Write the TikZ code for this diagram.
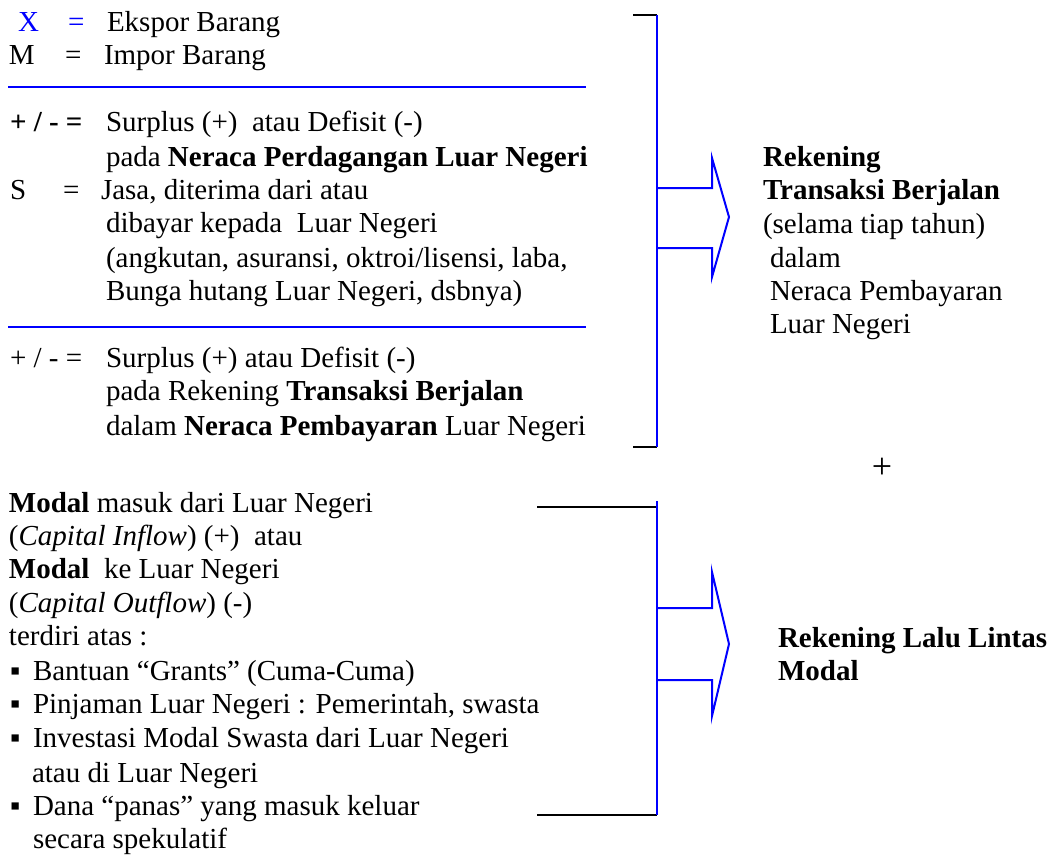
\documentclass[tikz,border=0pt]{standalone}
\usepackage{fontspec}
\setmainfont{Liberation Serif}
\begin{document}
\begin{tikzpicture}[x=1pt,y=-1pt,
  t/.style={anchor=base west, inner sep=0pt, outer sep=0pt, font=\fontsize{29}{34}\selectfont},
  bl/.style={draw=blue, line width=2pt},
  bk/.style={draw=black, line width=2pt},
  bul/.style={anchor=base west, inner sep=0pt, outer sep=0pt, font=\fontsize{29}{34}\selectfont}]
\useasboundingbox (0,0) rectangle (1052,855);
% top block
\node[t, text=blue] (xl) at (18,31) {X};
\node[t, text=blue] (xe) at (68,31) {=};
\node[t] (xd) at (107,31) {Ekspor Barang};
\node[t] (ml) at (9,64) {M};
\node[t] (me) at (65,64) {=};
\node[t] (md) at (104,64) {Impor Barang};
\coordinate (l1a) at (8,87); \coordinate (l1b) at (586,87);
\draw[bl] (l1a) -- (l1b);
\node[t, font=\fontsize{29}{34}\selectfont\bfseries] (pm1) at (10,131) {+ / - =};
\node[t] (s1) at (106,131) {Surplus (+)\ \ atau Defisit (-)};
\node[t] (s2) at (106,166) {pada \textbf{Neraca Perdagangan Luar Negeri}};
\node[t] (sl) at (10,199) {S};
\node[t] (se) at (63,199) {=};
\node[t] (sd) at (101,199) {Jasa, diterima dari atau};
\node[t] (s4) at (106,232) {dibayar kepada\ \ Luar Negeri};
\node[t] (s5) at (106,267) {(angkutan, asuransi, oktroi/lisensi, laba,};
\node[t] (s6) at (106,300) {Bunga hutang Luar Negeri, dsbnya)};
\coordinate (l2a) at (8,327); \coordinate (l2b) at (586,327);
\draw[bl] (l2a) -- (l2b);
\node[t] (pm2) at (10,367) {+ / - =};
\node[t] (r1) at (106,367) {Surplus (+) atau Defisit (-)};
\node[t] (r2) at (106,400) {pada Rekening \textbf{Transaksi Berjalan}};
\node[t] (r3) at (106,435) {dalam \textbf{Neraca Pembayaran} Luar Negeri};
% top bracket
\coordinate (b1t) at (657,15); \coordinate (b1b) at (657,447);
\coordinate (b1tl) at (633,15); \coordinate (b1bl) at (633,447);
\draw[bk] (b1tl) -- (b1t);
\draw[bk] (b1bl) -- (b1b);
\draw[bl] (b1t) -- (b1b);
\draw[bl, line join=miter] (657,188) -- (712,188) -- (712,158) -- (729,217) -- (712,277) -- (712,248) -- (657,248);
% right text top
\node[t, font=\fontsize{29}{34}\selectfont\bfseries] (rk1) at (763,166) {Rekening};
\node[t, font=\fontsize{29}{34}\selectfont\bfseries] (rk2) at (763,199) {Transaksi Berjalan};
\node[t] (rk3) at (763,233) {(selama tiap tahun)};
\node[t] (rk4) at (770,267) {dalam};
\node[t] (rk5) at (770,300) {Neraca Pembayaran};
\node[t] (rk6) at (770,333) {Luar Negeri};
% plus
\node[t, anchor=base, font=\fontsize{36}{40}\selectfont] (plus) at (882,478) {+};
% bottom left text
\node[t] (m1) at (9,512) {\textbf{Modal} masuk dari Luar Negeri};
\node[t] (m2) at (9,545) {(\textit{Capital Inflow}) (+)\ \ atau};
\node[t] (m3) at (9,578) {\textbf{Modal}\ \ ke Luar Negeri};
\node[t] (m4) at (9,612) {(\textit{Capital Outflow}) (-)};
\node[t] (m5) at (9,645) {terdiri atas :};
\node[bul] (u1) at (10,680) {▪};
\node[t] (m6) at (33,680) {Bantuan “Grants” (Cuma-Cuma)};
\node[bul] (u2) at (10,713) {▪};
\node[t] (m7) at (33,713) {Pinjaman Luar Negeri : Pemerintah, swasta};
\node[bul] (u3) at (10,747) {▪};
\node[t] (m8) at (33,747) {Investasi Modal Swasta dari Luar Negeri};
\node[t] (m9) at (32,782) {atau di Luar Negeri};
\node[bul] (u4) at (10,815) {▪};
\node[t] (m10) at (33,815) {Dana “panas” yang masuk keluar};
\node[t] (m11) at (33,848) {secara spekulatif};
% bottom bracket
\coordinate (b2t) at (657,507); \coordinate (b2b) at (657,815);
\coordinate (b2tl) at (537,507); \coordinate (b2bl) at (537,815);
\coordinate (b2top) at (657,501);
\draw[bk] (b2tl) -- (b2t);
\draw[bk] (b2bl) -- (b2b);
\draw[bl] (b2top) -- (b2b);
\draw[bl, line join=miter] (657,608) -- (712,608) -- (712,572) -- (729,644) -- (712,716) -- (712,680) -- (657,680);
% right text bottom
\node[t, font=\fontsize{29}{34}\selectfont\bfseries] (lm1) at (778,647) {Rekening Lalu Lintas};
\node[t, font=\fontsize{29}{34}\selectfont\bfseries] (lm2) at (778,680) {Modal};
\end{tikzpicture}
\end{document}
